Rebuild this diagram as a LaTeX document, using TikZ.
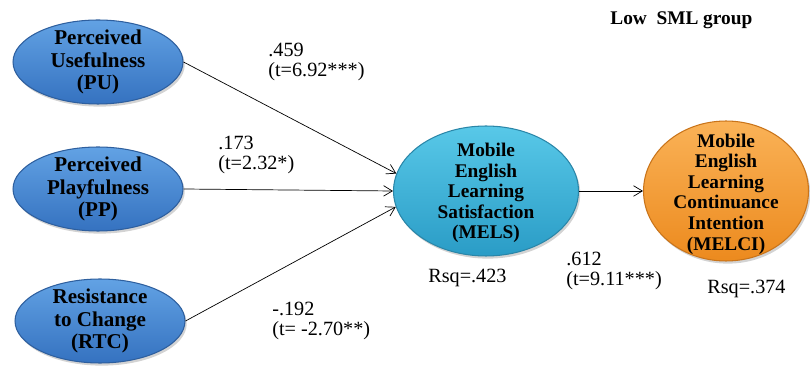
\documentclass[tikz,border=0pt]{standalone}
\usepackage{fontspec}
\setmainfont{Liberation Serif}
\usetikzlibrary{shapes.geometric,arrows.meta,shadows}

\definecolor{blueTop}{HTML}{62A2E4}
\definecolor{blueBot}{HTML}{3572C0}
\definecolor{blueLine}{HTML}{2E5F9E}
\definecolor{cyanTop}{HTML}{58C8E8}
\definecolor{cyanBot}{HTML}{2A9CC6}
\definecolor{cyanLine}{HTML}{2A86A8}
\definecolor{orangeTop}{HTML}{FAB257}
\definecolor{orangeBot}{HTML}{EC8A1E}
\definecolor{orangeLine}{HTML}{C9741A}

\begin{document}
\begin{tikzpicture}[
    x=0.02cm, y=-0.02cm,
    latent/.style={ellipse, draw=blueLine, semithick, top color=blueTop, bottom color=blueBot,
        minimum width=3.4cm, minimum height=1.68cm, inner sep=0pt,
        drop shadow={opacity=0.35, shadow xshift=1pt, shadow yshift=-1.5pt}},
    latenttext/.style={align=center, inner sep=0pt, font=\fontsize{12}{13}\selectfont\bfseries},
    endotext/.style={align=center, inner sep=0pt, font=\fontsize{11}{11.7}\selectfont\bfseries},
    coef/.style={align=left, anchor=west, inner sep=0pt, font=\fontsize{11.5}{11.5}\selectfont},
    arrow/.style={-{Straight Barb[length=5pt,width=6pt]}, thin}
]
\useasboundingbox (0,0) rectangle (810,374);

% Exogenous constructs
\node[latent] (PU) at (98,62) {};
\node[latenttext] (PUt) at (PU) {Perceived\\Usefulness\\(PU)};
\node[latent] (PP) at (98,189) {};
\node[latenttext] (PPt) at (PP) {Perceived\\Playfulness\\(PP)};
\node[latent] (RTC) at (100,321) {};
\node[latenttext] (RTCt) at (RTC) {Resistance\\to Change\\(RTC)};

% Endogenous constructs
\node[latent, draw=cyanLine, top color=cyanTop, bottom color=cyanBot,
    minimum width=3.7cm, minimum height=2.6cm] (MELS) at (486,191) {};
\node[endotext] (MELSt) at (486,193) {Mobile\\English\\Learning\\Satisfaction\\(MELS)};
\node[latent, draw=orangeLine, top color=orangeTop, bottom color=orangeBot,
    minimum width=3.3cm, minimum height=2.8cm] (MELCI) at (726,191) {};
\node[endotext] (MELCIt) at (726,194) {Mobile\\English\\Learning\\Continuance\\Intention\\(MELCI)};

% Paths
\draw[arrow] (PU.east) -- (MELS.169);
\draw[arrow] (PP.east) -- (MELS.180);
\draw[arrow] (RTC.east) -- (MELS.190);
\draw[arrow] (MELS.east) -- (MELCI.west);

% Path coefficients
\node[coef] (cPU) at (268,62) {.459\\(t=6.92***)};
\node[coef] (cPP) at (218,155) {.173\\(t=2.32*)};
\node[coef] (cRTC) at (272,321) {-.192\\(t= -2.70**)};
\node[coef] (cMELS) at (566,271) {.612\\(t=9.11***)};
\node[coef] (rMELS) at (428,278) {Rsq=.423};
\node[coef] (rMELCI) at (707,289) {Rsq=.374};

\node[anchor=west, inner sep=0pt, font=\fontsize{11}{13}\selectfont\bfseries] (group) at (610,20) {Low~~SML group};

\end{tikzpicture}
\end{document}
